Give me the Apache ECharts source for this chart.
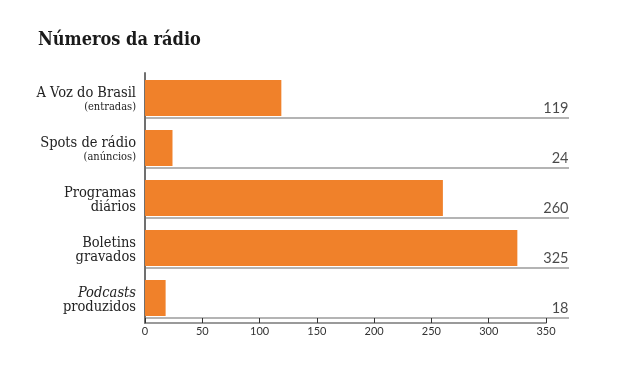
<!DOCTYPE html>
<html><head><meta charset="utf-8">
<script src="https://cdn.jsdelivr.net/npm/echarts@6/dist/echarts.min.js"></script>
<style>html,body{margin:0;padding:0;background:#fff}#c{width:640px;height:374px}</style>
</head><body><div id="c"></div>
<script>
const title = 'Números da rádio';
const categories = ['A Voz do Brasil\n(entradas)', 'Spots de rádio\n(anúncios)', 'Programas\ndiários', 'Boletins\ngravados', 'Podcasts\nproduzidos'];
const values = [119, 24, 260, 325, 18];
const xTicks = [0, 50, 100, 150, 200, 250, 300, 350];

const serif = '"DejaVu Serif Condensed", "DejaVu Serif", serif';
const chart = echarts.init(document.getElementById('c'), null, {renderer: 'canvas'});
chart.setOption({
  animation: false,
  title: {text: title, left: 33, top: 26, textStyle: {fontFamily: serif, fontWeight: 'bold', fontSize: 18, color: '#1a1a1a'}},
  grid: [
    {left: 145, top: 73, width: 401, height: 250, containLabel: false},
    {left: 145, top: 118, width: 424, height: 200, containLabel: false}
  ],
  xAxis: [
    {gridIndex: 0, type: 'value', min: xTicks[0], max: xTicks[xTicks.length - 1], interval: 50,
     axisLine: {show: true, lineStyle: {color: '#7a7a7a', width: 1.5}},
     axisTick: {show: true, inside: true, length: 5, lineStyle: {color: '#333', width: 1}},
     axisLabel: {margin: 3, fontFamily: 'Lato', fontSize: 11, color: '#333'},
     splitLine: {show: false}},
    {gridIndex: 1, type: 'value', min: 0, max: 1, show: false}
  ],
  yAxis: [
    {gridIndex: 0, type: 'category', inverse: true, data: categories,
     axisLine: {show: true, lineStyle: {color: '#707070', width: 2}},
     axisTick: {show: false},
     axisLabel: {margin: 9, align: 'right', padding: [4, 0, 0, 0],
       formatter: function (v, i) {
         const p = v.split('\n');
         const s1 = i === 4 ? 'i' : 'a';
         const s2 = i < 2 ? 's' : 'a';
         return '{' + s1 + '|' + p[0] + '}\n{' + s2 + '|' + p[1] + '}';
       },
       rich: {
         a: {fontFamily: serif, fontStyle: 'normal', fontSize: 14.5, color: '#222', lineHeight: 14, align: 'right'},
         i: {fontFamily: serif, fontStyle: 'italic', fontSize: 14.5, color: '#222', lineHeight: 14, align: 'right'},
         s: {fontFamily: serif, fontStyle: 'normal', fontSize: 11, color: '#222', lineHeight: 14, align: 'right'}
       }}},
    {gridIndex: 1, type: 'value', inverse: true, min: 1, max: 5, interval: 1, show: true,
     axisLine: {show: false}, axisTick: {show: false}, axisLabel: {show: false},
     splitLine: {show: true, lineStyle: {color: '#b4b4b4', width: 2}}}
  ],
  series: [
    {type: 'bar', xAxisIndex: 0, yAxisIndex: 0, data: values, barWidth: 36,
     itemStyle: {color: '#f0812a'}},
    {type: 'scatter', xAxisIndex: 1, yAxisIndex: 1, symbolSize: 1, itemStyle: {color: 'rgba(0,0,0,0)'},
     data: values.map((v, i) => [1, i + 1, v]),
     label: {show: true, position: [0, -2], align: 'right', verticalAlign: 'bottom',
       formatter: p => String(p.data[2]), fontFamily: 'Lato', fontSize: 14.5, color: '#1a1a1a'}}
  ]
});
</script></body></html>
